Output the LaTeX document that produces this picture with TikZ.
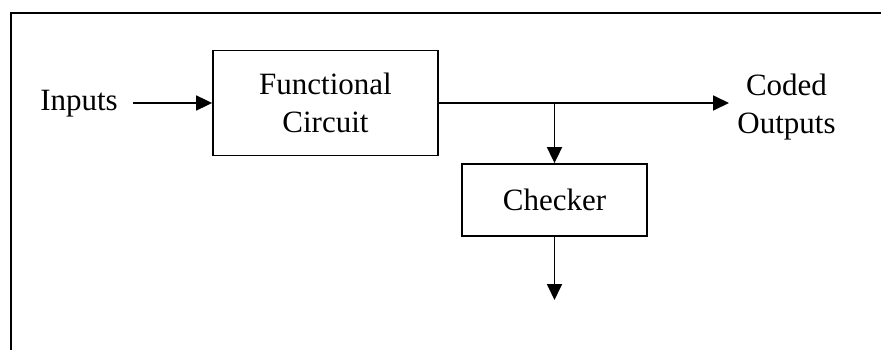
\documentclass[tikz,border=0pt]{standalone}
\usepackage{fontspec}
\setmainfont{Liberation Serif}
\usetikzlibrary{arrows.meta,calc}
\begin{document}
\begin{tikzpicture}[x=1pt,y=-1pt,
  lw/.style={line width=1.8pt},
  blk/.style={draw,lw,rectangle,align=center,inner sep=0pt},
  lbl/.style={inner sep=0pt,align=center},
  arr/.style={lw,-{Triangle[length=16pt,width=15pt]}},
  every node/.style={font=\fontsize{31}{38}\selectfont}]
\useasboundingbox (0,0) rectangle (881,350);
\draw[lw] (881,13) -- (11,13) -- (11,350);
\node[blk,minimum width=225pt,minimum height=105pt] (fc) at (325.5,103) {Functional\\Circuit};
\node[blk,minimum width=185pt,minimum height=72pt] (chk) at (554.5,200) {Checker};
\node[lbl,anchor=base] (inp) at (79,111) {Inputs};
\node[lbl] (out) at (786.5,107) {Coded\\Outputs};
\coordinate (otip) at (729,103);
\coordinate (j) at (fc.east -| chk.north);
\coordinate (ctip) at (554.5,300);
\draw[arr] ($(inp.east |- fc.west)+(15,0)$) -- (fc.west);
\draw[arr] (fc.east) -- (otip);
\draw[arr] (j) -- (chk.north);
\draw[arr] (chk.south) -- (ctip);
\end{tikzpicture}
\end{document}
